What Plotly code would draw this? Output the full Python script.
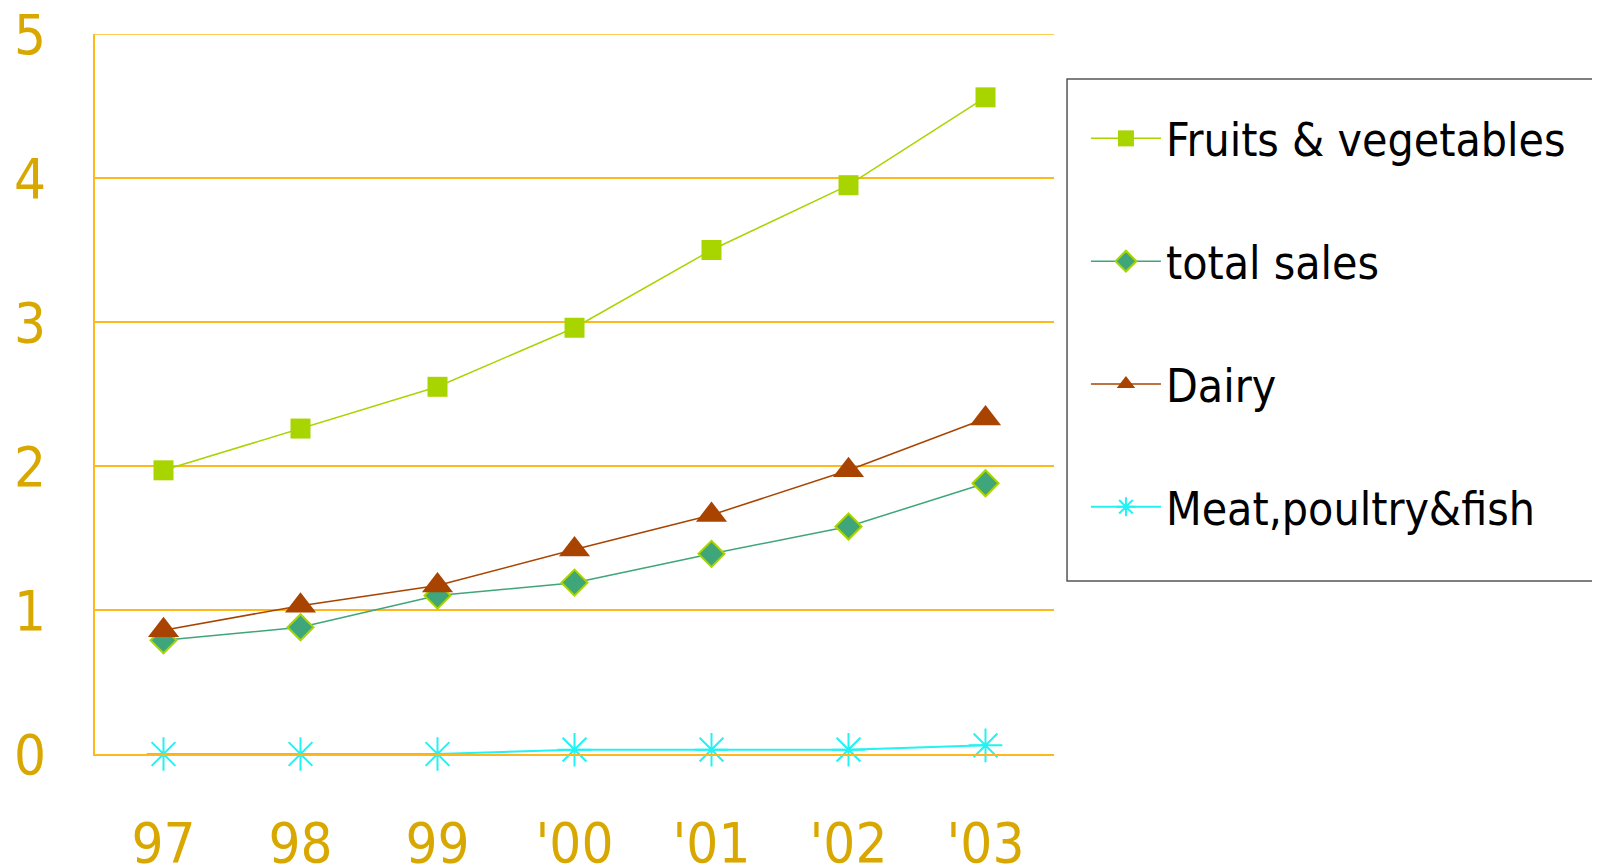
import plotly.graph_objects as go

years = ["97", "98", "99", "'00", "'01", "'02", "'03"]
fruits_veg = [1.97, 2.26, 2.55, 2.96, 3.50, 3.95, 4.56]
total_sales = [0.79, 0.88, 1.10, 1.19, 1.39, 1.58, 1.88]
dairy = [0.86, 1.03, 1.17, 1.42, 1.66, 1.97, 2.33]
meat_fish = [0.0, 0.0, 0.0, 0.03, 0.03, 0.03, 0.06]

GRID = "#FFB81C"
TICK = "#D9A800"
FONT = "DejaVu Sans Condensed, Tahoma, DejaVu Sans, sans-serif"

fig = go.Figure()

fig.add_trace(go.Scatter(
    x=years, y=fruits_veg, name="Fruits & vegetables", mode="lines+markers",
    line=dict(color="#A8D400", width=1.5),
    marker=dict(symbol="square", size=20, color="#A8D400"),
    legendgroup="a", cliponaxis=False,
))
fig.add_trace(go.Scatter(
    x=years, y=total_sales, name="total sales", mode="lines+markers",
    line=dict(color="#3FA57A", width=1.5),
    marker=dict(symbol="diamond", size=20, color="#3FA57A",
                line=dict(color="#A8D400", width=2)),
    legendgroup="b", cliponaxis=False,
))
fig.add_trace(go.Scatter(
    x=years, y=dairy, name="Dairy", mode="lines+markers",
    line=dict(color="#A84400", width=1.5),
    marker=dict(symbol="triangle-up", size=27, color="#A84400"),
    legendgroup="c", cliponaxis=False,
))
fig.add_trace(go.Scatter(
    x=years, y=meat_fish, name="Meat,poultry&fish", mode="lines+markers",
    line=dict(color="#22F2F2", width=2),
    marker=dict(symbol="asterisk-open", size=28, color="#22F2F2",
                line=dict(color="#22F2F2", width=2)),
    legendgroup="d", cliponaxis=False,
))

# top gridline at 5 and the legend frame (runs off the right edge)
fig.add_shape(type="line", xref="paper", yref="y", x0=0, x1=1, y0=5, y1=5,
              line=dict(color=GRID, width=1.5))
fig.add_shape(type="rect", xref="paper", yref="paper",
              x0=1.0136, x1=1.58, y0=0.2403, y1=0.9375,
              line=dict(color="#555555", width=1.5), fillcolor="rgba(0,0,0,0)")

fig.update_layout(
    width=1600, height=867,
    margin=dict(l=87, r=554, t=26, b=121, autoexpand=False),
    paper_bgcolor="white", plot_bgcolor="white",
    font=dict(family=FONT, color="black"),
    showlegend=True,
    legend=dict(
        x=1.0333, y=0.9056, xanchor="left", yanchor="top",
        font=dict(family=FONT, size=46, color="black"),
        borderwidth=0, bgcolor="rgba(0,0,0,0)",
        tracegroupgap=60, itemwidth=70,
    ),
    xaxis=dict(
        type="category", range=[-0.5, 6.5], automargin=False,
        showgrid=False, showline=True, linecolor=GRID, linewidth=1.5,
        tickfont=dict(family=FONT, size=56, color=TICK),
        ticks="", ticklabelstandoff=39, ticklabeloverflow="allow",
    ),
    yaxis=dict(
        range=[0, 5], dtick=1, tick0=0, automargin=False,
        showgrid=True, gridcolor=GRID, gridwidth=1.5,
        zeroline=True, zerolinecolor=GRID, zerolinewidth=1.5,
        showline=True, linecolor=GRID, linewidth=1.5,
        tickfont=dict(family=FONT, size=56, color=TICK),
        ticks="", ticklabelstandoff=36, ticklabeloverflow="allow",
    ),
)

fig.write_html("out.html")
